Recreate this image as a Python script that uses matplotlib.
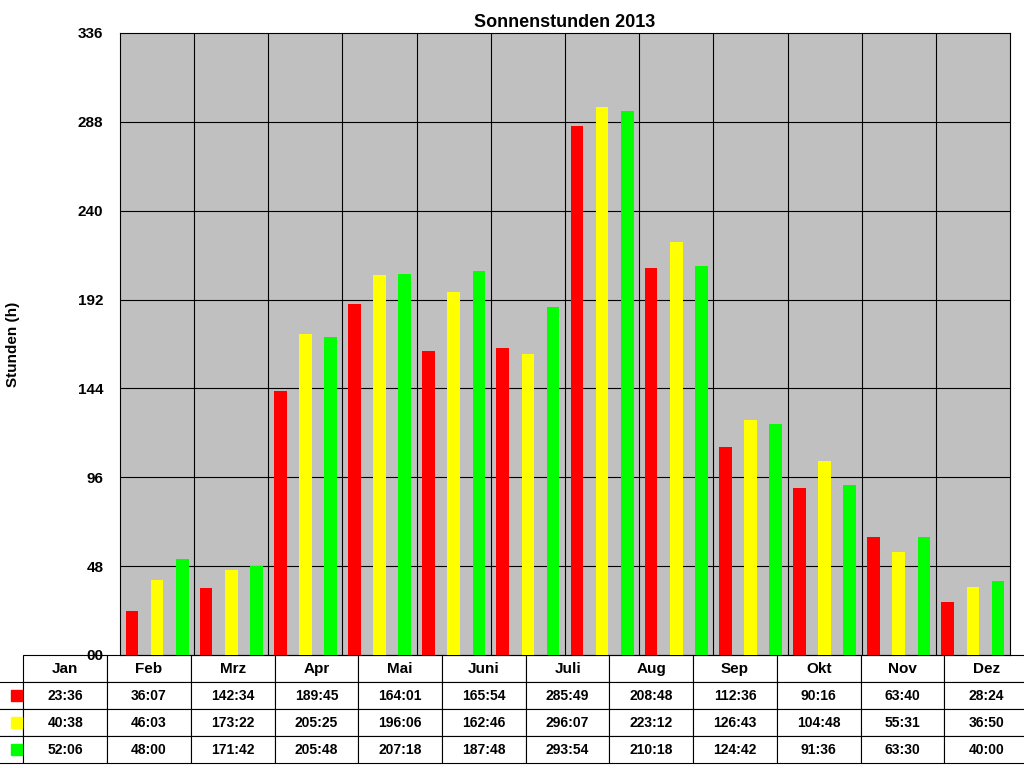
import matplotlib
matplotlib.use("Agg")
import matplotlib.pyplot as plt
import numpy as np

months = ["Jan", "Feb", "Mrz", "Apr", "Mai", "Juni", "Juli", "Aug", "Sep", "Okt", "Nov", "Dez"]
series_names = ["DWD Leck", "DWD List", "DMI Jündewatt"]
series_colors = ["#FF0000", "#FFFF00", "#00FF00"]
leck = ["23:36", "36:07", "142:34", "189:45", "164:01", "165:54", "285:49", "208:48", "112:36", "90:16", "63:40", "28:24"]
lst = ["40:38", "46:03", "173:22", "205:25", "196:06", "162:46", "296:07", "223:12", "126:43", "104:48", "55:31", "36:50"]
dmi = ["52:06", "48:00", "171:42", "205:48", "207:18", "187:48", "293:54", "210:18", "124:42", "91:36", "63:30", "40:00"]
yticks = [0, 48, 96, 144, 192, 240, 288, 336]


def to_hours(text):
    h, m = text.split(":")
    return int(h) + int(m) / 60


plt.rcParams["font.family"] = ["Liberation Sans", "DejaVu Sans"]
plt.rcParams["font.weight"] = "bold"

fig = plt.figure(figsize=(10.24, 7.68), dpi=100)
ax = fig.add_axes([120 / 1024, 1 - 655 / 768, 890 / 1024, 622 / 768])
ax.set_facecolor("#C0C0C0")

x = np.arange(len(months))
offsets = [-0.34, 0.0, 0.34]
for values, color, off in zip([leck, lst, dmi], series_colors, offsets):
    ax.bar(x + off, [to_hours(v) for v in values], width=0.17, color=color, zorder=3)

ax.set_xlim(-0.5, len(months) - 0.5)
ax.set_ylim(0, 336)
ax.set_yticks(yticks)
ax.set_yticklabels([f"{t:02d}" for t in yticks], fontsize=11, fontweight="bold")
ax.set_xticks([])
for b in np.arange(0.5, len(months) - 0.5, 1):
    ax.axvline(b, color="black", lw=0.8, zorder=1)
for t in yticks[1:-1]:
    ax.axhline(t, color="black", lw=0.8, zorder=1)
for s in ax.spines.values():
    s.set_linewidth(0.8)
ax.tick_params(axis="y", length=0, pad=12)

ax.set_title("Sonnenstunden 2013", fontsize=13, fontweight="bold", pad=4)
ax.set_ylabel("Stunden (h)", fontsize=11, fontweight="bold", labelpad=42)

cell_text = [leck, lst, dmi]
table = ax.table(
    cellText=cell_text,
    rowLabels=["     " + n for n in series_names],
    colLabels=months,
    colWidths=[1 / 12] * 12,
    rowLoc="left",
    cellLoc="center",
    bbox=[-0.129, -0.174, 1.129, 0.174],
)
table.auto_set_font_size(False)
for (r, c), cell in table.get_celld().items():
    cell.set_linewidth(0.8)
    cell.get_text().set_fontsize(10 if r > 0 else 11)
    cell.get_text().set_fontweight("bold")
    if c == -1:
        cell.get_text().set_ha("left")

for i, color in enumerate(series_colors):
    yc = -0.174 + 0.174 * (3 - i - 0.5) / 4
    ax.add_patch(plt.Rectangle((-0.122, yc - 0.009), 0.012, 0.018,
                               transform=ax.transAxes, color=color,
                               clip_on=False, zorder=5))

fig.savefig("out.png", dpi=100)
